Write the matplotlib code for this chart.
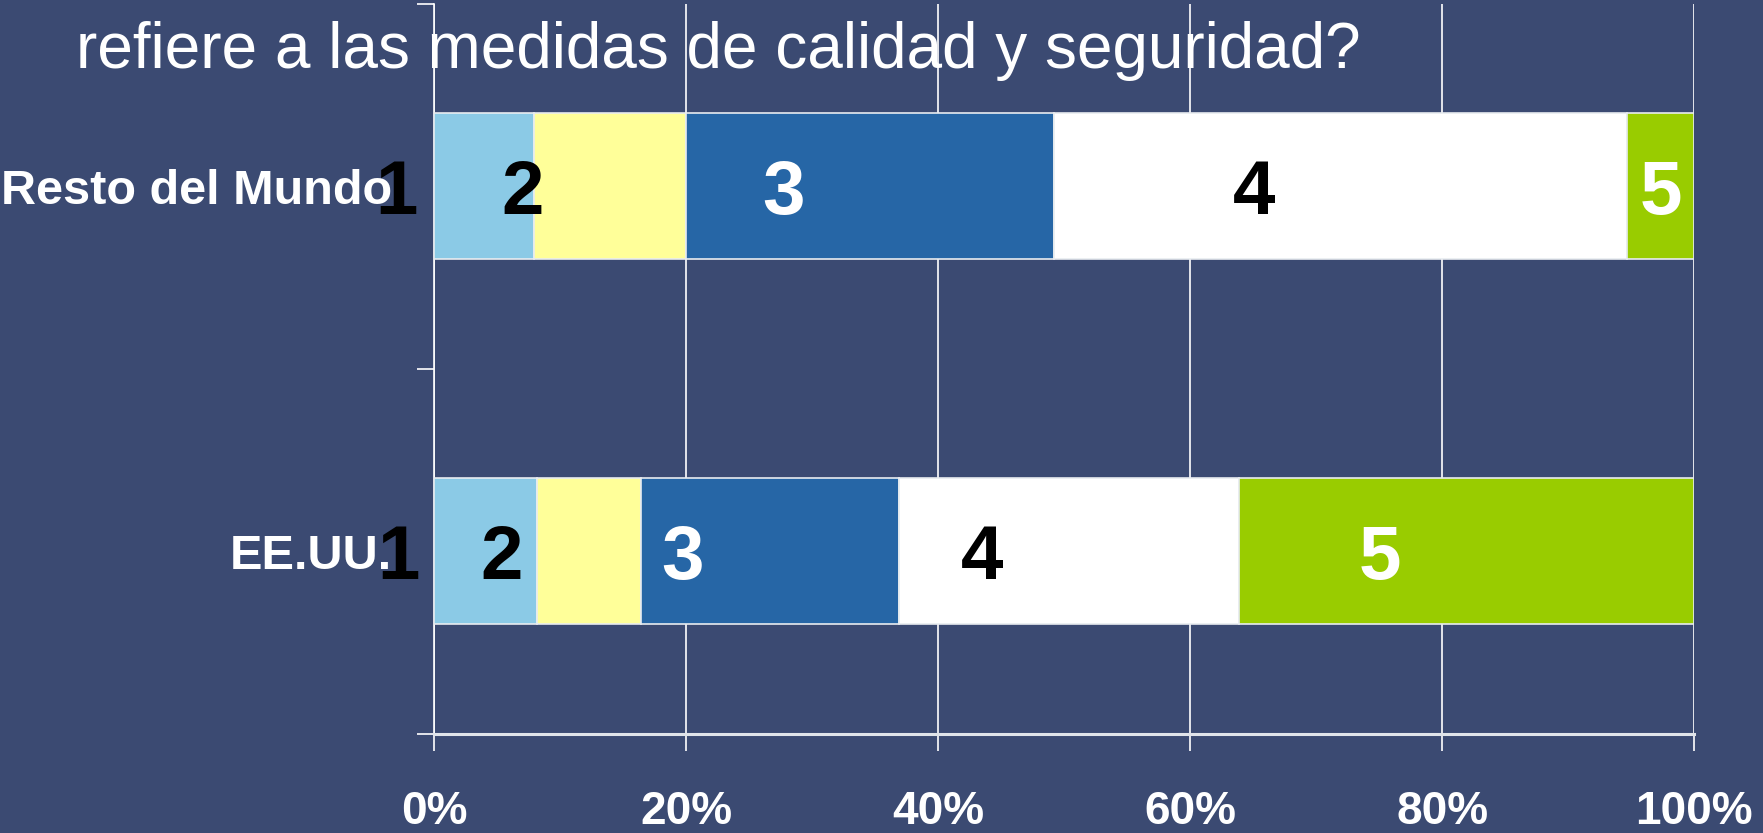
import matplotlib.pyplot as plt
import numpy as np

# data (percent of answers per level 1..5)
regions = ['EE.UU.', 'Resto del Mundo']
levels = ['1', '2', '3', '4', '5']
eeuu = [8.2, 8.2, 20.5, 27.0, 36.1]
resto = [7.9, 12.1, 29.2, 45.5, 5.3]
x_ticks = [0, 20, 40, 60, 80, 100]
x_labels = ['0%', '20%', '40%', '60%', '80%', '100%']
title_line = 'refiere a las medidas de calidad y seguridad?'

bg = '#3B4A72'
seg_colors = ['#8BCAE6', '#FFFF99', '#2666A6', '#FFFFFF', '#99CC00']
label_colors = ['black', 'black', 'white', 'black', 'white']

plt.rcParams['font.family'] = ['Liberation Sans', 'DejaVu Sans']

fig = plt.figure(figsize=(17.63, 8.33), dpi=100, facecolor=bg)
ax = fig.add_axes([0.2462, 0.1189, 0.7147, 0.8763], facecolor=bg)
ax.set_xlim(0, 100)
ax.set_ylim(0, 2)

rows = [eeuu, resto]
y_pos = np.arange(len(regions)) + 0.5
bar_h = 0.4
px = 0.72  # points per pixel at dpi 100

for r, vals in enumerate(rows):
    left = 0
    for i, v in enumerate(vals):
        ax.barh(y_pos[r], v, left=left, height=bar_h, color=seg_colors[i],
                edgecolor='#E8ECF0', linewidth=1.2, zorder=3)
        center = left + v / 2
        shift = -87 * px
        # narrow last segment: label stays centred inside it
        if i == len(vals) - 1:
            disp_l = ax.transData.transform((left, 0))[0]
            disp_c = ax.transData.transform((center, 0))[0]
            if disp_c - 87 < disp_l:
                shift = 0
        ax.annotate(levels[i], xy=(center, y_pos[r]), xytext=(shift, 0),
                    textcoords='offset points', ha='center', va='center_baseline',
                    fontsize=55, fontweight='bold', color=label_colors[i],
                    zorder=5, annotation_clip=False)
        left += v

ax.set_xlim(0, 100)
ax.set_ylim(0, 2)

ax.set_xticks(x_ticks)
ax.set_xticklabels(x_labels)
ax.grid(axis='x', color='white', linewidth=1.2, zorder=0)
ax.set_axisbelow(True)

ax.set_yticks([0, 1, 2])
ax.set_yticklabels(['', '', ''])
ax.set_yticks(y_pos, minor=True)
ax.set_yticklabels(regions, minor=True)

ax.tick_params(axis='x', which='major', direction='out', length=12, width=1.2,
               color='white', labelcolor='white', labelsize=33, pad=28)
for lab in ax.get_xticklabels():
    lab.set_fontweight('bold')
ax.tick_params(axis='y', which='major', direction='out', length=12, width=1.2,
               color='white')
ax.tick_params(axis='y', which='minor', length=0, labelcolor='white',
               labelsize=35, pad=30)
for lab in ax.get_yticklabels(minor=True):
    lab.set_fontweight('bold')

for side in ['top', 'right']:
    ax.spines[side].set_visible(False)
ax.spines['left'].set_color('white')
ax.spines['left'].set_linewidth(1.2)
ax.spines['bottom'].set_color('#E0E4EA')
ax.spines['bottom'].set_linewidth(2.2)

fig.text(0.0431, 1 - 68 / 833, title_line, fontsize=46, color='white',
         ha='left', va='baseline', zorder=10)

fig.savefig('out.png', dpi=100, facecolor=bg)
